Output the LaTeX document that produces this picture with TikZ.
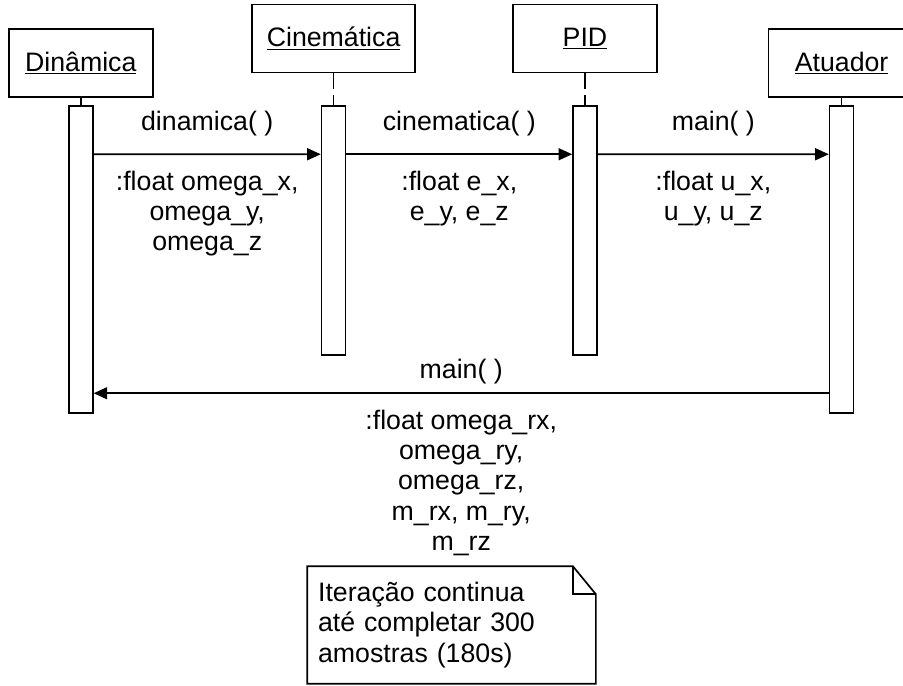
\documentclass[tikz,border=0pt]{standalone}
\usepackage{fontspec}
\setmainfont{Liberation Sans}
\usetikzlibrary{arrows.meta,calc,positioning}
\tikzset{
  seqfig/.style={>={Triangle[length=0.34cm,width=0.3cm]},line width=1.1pt,
    every node/.style={font=\fontsize{19}{21.5}\selectfont,align=center}},
  objbox/.style={draw,line width=1.2pt,minimum width=3.6cm,minimum height=1.7cm},
  lifebar/.style={draw,line width=1.2pt,minimum width=0.6cm,inner sep=0pt},
  lifeline/.style={dash pattern=on 0.4cm off 0.15cm,line width=1.1pt},
  msg/.style={->},
  callname/.style={midway,above=0.44cm,inner sep=0pt},
  callret/.style={midway,below=0.4cm,inner sep=0pt},
  notebox/.style={align=left,text width=6.675cm,minimum height=2.9cm,
    inner xsep=0.25cm,inner ysep=0pt},
}

\begin{document}
\begin{tikzpicture}[seqfig]
    \useasboundingbox (0,0) rectangle (22.575,-17.15);
    % objects
    \node[objbox] (dyn) at (2.02,-1.575) {\underline{Dinâmica}};
    \node[objbox,minimum width=4.075cm] (kin) at (8.34,-0.96) {\underline{Cinemática}};
    \node[objbox] (pid) at (14.625,-0.96) {\underline{PID}};
    \node[objbox,minimum width=3.65cm] (act) at (21.04,-1.575) {\underline{Atuador}};

    % activation bars
    \node[lifebar,minimum height=7.675cm] (dynbar) at (2.02,-6.49) {};
    \node[lifebar,minimum height=6.225cm] (kinbar) at (8.34,-5.765) {};
    \node[lifebar,minimum height=6.225cm] (pidbar) at (14.625,-5.765) {};
    \node[lifebar,minimum height=7.675cm] (actbar) at (21.04,-6.49) {};
    \foreach \obj in {dyn,kin,pid,act}
      \draw[lifeline] (\obj.south) -- (\obj bar.north);

    % messages
    \draw[msg] ($(dynbar.north east)+(0,-1.225)$) --
      node[callname] {dinamica( )}
      node[callret] {:float omega\_x,\\omega\_y,\\omega\_z}
      ($(kinbar.north west)+(0,-1.225)$);
    \draw[msg] ($(kinbar.north east)+(0,-1.225)$) --
      node[callname] {cinematica( )}
      node[callret] {:float e\_x,\\e\_y, e\_z}
      ($(pidbar.north west)+(0,-1.225)$);
    \draw[msg] ($(pidbar.north east)+(0,-1.225)$) --
      node[callname] {main( )}
      node[callret] {:float u\_x,\\u\_y, u\_z}
      ($(actbar.north west)+(0,-1.225)$);
    \draw[msg] ($(actbar.north west)+(0,-7.2)$) --
      node[callname,above=0.2cm] {main( )}
      node[callret,below=0.4cm] {:float omega\_rx,\\omega\_ry,\\omega\_rz,\\m\_rx, m\_ry,\\m\_rz}
      ($(dynbar.north east)+(0,-7.2)$);

    % note
    \node[notebox] (note) at (11.29,-15.625)
      {Iteração continua\\até completar 300\\amostras (180s)};
    \draw[line width=1.2pt] (note.north west) -- ($(note.north east)+(-0.575,0)$)
      -- ($(note.north east)+(0,-0.7)$) -- (note.south east) -- (note.south west) -- cycle;
    \draw[line width=1.2pt] ($(note.north east)+(-0.575,0)$) -- ++(0,-0.7)
      -- ($(note.north east)+(0,-0.7)$);
\end{tikzpicture}
\end{document}
